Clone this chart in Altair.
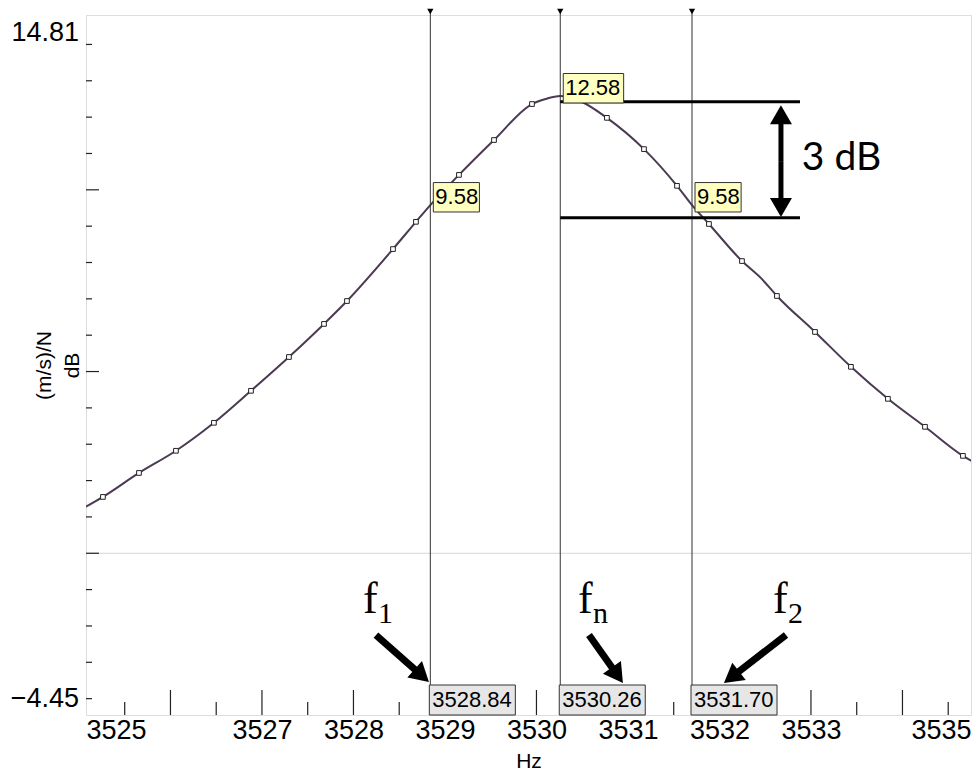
import math
import altair as alt
import pandas as pd

# ---------------- data ----------------
freq = [3525.077, 3525.262, 3525.656, 3526.060, 3526.475, 3526.880, 3527.295, 3527.678,
        3527.929, 3528.432, 3528.683, 3528.840, 3529.153, 3529.536, 3529.951, 3530.100,
        3530.260, 3530.486, 3530.770, 3531.175, 3531.536, 3531.700, 3531.885, 3532.246,
        3532.454, 3532.628, 3533.044, 3533.437, 3533.841, 3534.246, 3534.661, 3534.858]
level = [1.28, 1.55, 2.21, 2.82, 3.59, 4.47, 5.40, 6.31,
         6.94, 8.37, 9.12, 9.58, 10.41, 11.37, 12.36, 12.50,
         12.58, 12.43, 11.98, 11.12, 10.11, 9.58, 9.06, 8.04,
         7.57, 7.08, 6.09, 5.13, 4.25, 3.48, 2.68, 2.40]
is_marker = [0, 1, 1, 1, 1, 1, 1, 1,
             1, 1, 1, 0, 1, 1, 1, 0,
             0, 0, 1, 1, 1, 0, 1, 1,
             0, 1, 1, 1, 1, 1, 1, 0]

cursor_freq = [3528.84, 3530.26, 3531.70]
cursor_text = ["3528.84", "3530.26", "3531.70"]
cursor_level = [9.58, 12.58, 9.58]
cursor_level_text = ["9.58", "12.58", "9.58"]

X_MIN, X_MAX = 3525.077, 3534.749
Y_MIN, Y_MAX = -4.45, 14.81
x_label_values = [X_MIN, 3527, 3528, 3529, 3530, 3531, 3532, 3533, X_MAX]
x_major_ticks = [3526, 3527, 3528, 3529, 3530, 3531, 3532, 3533, 3534]
x_minor_ticks = [3525.5, 3526.5, 3527.5, 3528.5, 3529.5, 3530.5, 3531.5, 3532.5, 3533.5, 3534.5]
y_major_ticks = [0, 5, 10]
y_minor_ticks = [-4, -3, -2, -1, 1, 2, 3, 4, 6, 7, 8, 9, 11, 12, 13, 14]
y_label_top = [Y_MAX]
y_label_bottom = [Y_MIN]
zero_line = [0]

band_levels = [12.42, 9.23]
band_from = [3530.26, 3530.26]
band_to = [3532.88, 3532.88]

# f-arrows (start -> tip)
f_arrow_sx = [3528.246, 3530.574, 3532.727]
f_arrow_sy = [-2.25, -2.25, -2.25]
f_arrow_tx = [3528.825, 3530.945, 3532.049]
f_arrow_ty = [-3.54, -3.57, -3.57]
# 3 dB double arrow (two halves from middle)
db_arrow_sx = [3532.672, 3532.672]
db_arrow_sy = [10.79, 10.79]
db_arrow_tx = [3532.672, 3532.672]
db_arrow_ty = [12.33, 9.25]

f_label_x = [3528.104, 3530.454, 3532.585]
f_label_y = [-1.64, -1.64, -1.64]
f_sub = ["1", "n", "2"]

db_text = ["3 dB"]
db_text_x = [3532.90]
db_text_y = [10.88]

# ---------------- layout ----------------
W, H = 885, 700
FONT = "Liberation Sans"
HEAD_SIZE = 484
HEAD_H = math.sqrt(3) / 2 * math.sqrt(HEAD_SIZE) / 2

pxx = W / (X_MAX - X_MIN)
pxy = H / (Y_MAX - Y_MIN)

xs = alt.Scale(domain=[X_MIN, X_MAX], nice=False, zero=False)
ys = alt.Scale(domain=[Y_MIN, Y_MAX], nice=False, zero=False)

AX = alt.Axis(values=x_label_values, labelExpr="format(round(datum.value), 'd')",
              labelFlush=True, labelOverlap=False, ticks=False, domain=False, grid=False,
              labelFontSize=27, labelColor="black", labelPadding=2,
              title="Hz", titleFontSize=21, titleFontWeight="normal", titleColor="black",
              titlePadding=7)
AY = alt.Axis(title=["(m/s)/N", "dB"], labels=False, ticks=False, domain=False, grid=False,
              titleFontSize=21, titleFontWeight="normal", titleColor="black",
              titlePadding=4, titleLineHeight=28)


def X(f, t="quantitative"):
    return alt.X(f, type=t, scale=xs, axis=AX)


def Y(f, t="quantitative"):
    return alt.Y(f, type=t, scale=ys, axis=AY)


def arrows(sx, sy, tx, ty):
    rows = []
    for a, b, c, d in zip(sx, sy, tx, ty):
        dxp = (c - a) * pxx
        dyp = -(d - b) * pxy
        L = math.hypot(dxp, dyp)
        ux, uy = dxp / L, dyp / L
        ang = math.degrees(math.atan2(ux, -uy)) % 360
        rows.append(dict(
            sx=a, sy=b,
            ex=c - 1.6 * HEAD_H * ux / pxx, ey=d + 1.6 * HEAD_H * uy / pxy,
            cx=c - HEAD_H * ux / pxx, cy=d + HEAD_H * uy / pxy,
            ang=ang))
    return pd.DataFrame(rows)


curve_df = pd.DataFrame({"f": freq, "v": level, "m": is_marker})
cursor_df = pd.DataFrame({"f": cursor_freq, "t": cursor_text,
                          "v": cursor_level, "lab": cursor_level_text})

# curve (first, carries the axes)
curve = alt.Chart(curve_df).mark_line(color="#4b3a52", strokeWidth=2, interpolate="monotone",
                                      clip=True).encode(x=X("f"), y=Y("v"))

# grid line at 0
zero = alt.Chart(pd.DataFrame({"v": zero_line})).mark_rule(color="#d6d6d6", strokeWidth=1).encode(
    y=Y("v"), x=alt.value(0), x2=alt.value(W))

# ticks (inward)
yt_major = alt.Chart(pd.DataFrame({"v": y_major_ticks})).mark_rule(color="#222", strokeWidth=1.2).encode(
    y=Y("v"), x=alt.value(0), x2=alt.value(13))
yt_minor = alt.Chart(pd.DataFrame({"v": y_minor_ticks})).mark_rule(color="#222", strokeWidth=1.2).encode(
    y=Y("v"), x=alt.value(0), x2=alt.value(6))
xt_major = alt.Chart(pd.DataFrame({"v": x_major_ticks})).mark_rule(color="#222", strokeWidth=1.2).encode(
    x=X("v"), y=alt.value(H), y2=alt.value(H - 25))
xt_minor = alt.Chart(pd.DataFrame({"v": x_minor_ticks})).mark_rule(color="#222", strokeWidth=1.2).encode(
    x=X("v"), y=alt.value(H), y2=alt.value(H - 13))

markers = alt.Chart(curve_df).transform_filter("datum.m == 1").mark_point(
    shape="square", size=22, filled=False, stroke="#222", strokeWidth=1, fill="white", fillOpacity=1,
    opacity=1).encode(x=X("f"), y=Y("v"))

# cursors
cursor_lines = alt.Chart(cursor_df).mark_rule(color="#333", strokeWidth=1).encode(
    x=X("f"), y=alt.value(-4), y2=alt.value(H - 30))
cursor_tri = alt.Chart(cursor_df).mark_point(shape="triangle-down", filled=True, size=40,
                                             color="black", opacity=1).encode(
    x=X("f"), y=alt.value(-3.5))

# 3 dB band lines
band = alt.Chart(pd.DataFrame({"v": band_levels, "a": band_from, "b": band_to})).mark_rule(
    color="black", strokeWidth=3).encode(x=X("a"), x2="b", y=Y("v"))

# yellow value boxes
ybox = alt.Chart(cursor_df).transform_calculate(
    x2="datum.f + 0.156*length(datum.lab) - 0.12", ytop="datum.v + 0.62", ybot="datum.v - 0.19"
).mark_rect(fill="#ffffc0", stroke="#333", strokeWidth=1, xOffset=3, x2Offset=3).encode(
    x=X("f"), x2="x2:Q", y=Y("ytop"), y2="ybot:Q")
ytext = alt.Chart(cursor_df).transform_calculate(ym="datum.v + 0.215").mark_text(
    align="left", baseline="middle", dx=5, fontSize=22, font=FONT, color="black").encode(
    x=X("f"), y=Y("ym"), text="lab:N")

# bottom frequency boxes
fbox = alt.Chart(cursor_df).transform_calculate(x2="datum.f + 0.94").mark_rect(
    fill="#e6e6e6", stroke="#333", strokeWidth=1, xOffset=-1, x2Offset=-1).encode(
    x=X("f"), x2="x2:Q", y=alt.value(H - 30), y2=alt.value(H))
ftext = alt.Chart(cursor_df).mark_text(align="left", baseline="middle", dx=2, fontSize=22,
                                       font=FONT, color="black").encode(
    x=X("f"), y=alt.value(H - 15), text="t:N")

# arrows
fa = arrows(f_arrow_sx, f_arrow_sy, f_arrow_tx, f_arrow_ty)
da = arrows(db_arrow_sx, db_arrow_sy, db_arrow_tx, db_arrow_ty)
f_shaft = alt.Chart(fa).mark_rule(color="black", strokeWidth=7, strokeCap="butt").encode(
    x=X("sx"), y=Y("sy"), x2="ex", y2="ey")
d_shaft = alt.Chart(da).mark_rule(color="black", strokeWidth=5, strokeCap="butt").encode(
    x=X("sx"), y=Y("sy"), x2="ex", y2="ey")
heads = alt.Chart(pd.concat([fa, da], ignore_index=True)).mark_point(
    shape="triangle-up", filled=True, size=HEAD_SIZE, color="black", opacity=1).encode(
    x=X("cx"), y=Y("cy"), angle=alt.Angle("ang:Q", scale=None))

# f labels
fdf = pd.DataFrame({"x": f_label_x, "y": f_label_y, "s": f_sub, "f": ["f"] * 3})
f_main = alt.Chart(fdf).mark_text(align="left", baseline="alphabetic", fontSize=44,
                                  font="Liberation Serif", color="black").encode(
    x=X("x"), y=Y("y"), text="f:N")
f_subs = alt.Chart(fdf).mark_text(align="left", baseline="alphabetic", fontSize=30, dx=15, dy=10,
                                  font="Liberation Serif", color="black").encode(
    x=X("x"), y=Y("y"), text="s:N")

db_label = alt.Chart(pd.DataFrame({"x": db_text_x, "y": db_text_y, "t": db_text})).mark_text(
    align="left", baseline="middle", fontSize=39, font="Lato", color="black").encode(
    x=X("x"), y=Y("y"), text="t:N")

# y end labels
ylab_top = alt.Chart(pd.DataFrame({"v": y_label_top})).mark_text(
    align="right", baseline="top", dy=5, fontSize=27, font=FONT, color="black").encode(
    y=Y("v"), x=alt.value(-7), text=alt.Text("v:Q", format=".2f"))
ylab_bot = alt.Chart(pd.DataFrame({"v": y_label_bottom})).mark_text(
    align="right", baseline="alphabetic", dy=-8, fontSize=27, font=FONT, color="black").encode(
    y=Y("v"), x=alt.value(-7), text=alt.Text("v:Q", format=".2f"))

chart = alt.layer(
    curve, zero, yt_major, yt_minor, xt_major, xt_minor, markers,
    cursor_lines, cursor_tri, band, ybox, ytext, fbox, ftext,
    f_shaft, d_shaft, heads, f_main, f_subs, db_label, ylab_top, ylab_bot
).properties(
    width=W, height=H, padding={"left": 2, "top": 0, "right": 0, "bottom": 0}
).configure_view(stroke="#222", strokeWidth=1.5).configure(font=FONT, background="white")

chart.save("out.html", embed_options={"renderer": "svg", "actions": False})
